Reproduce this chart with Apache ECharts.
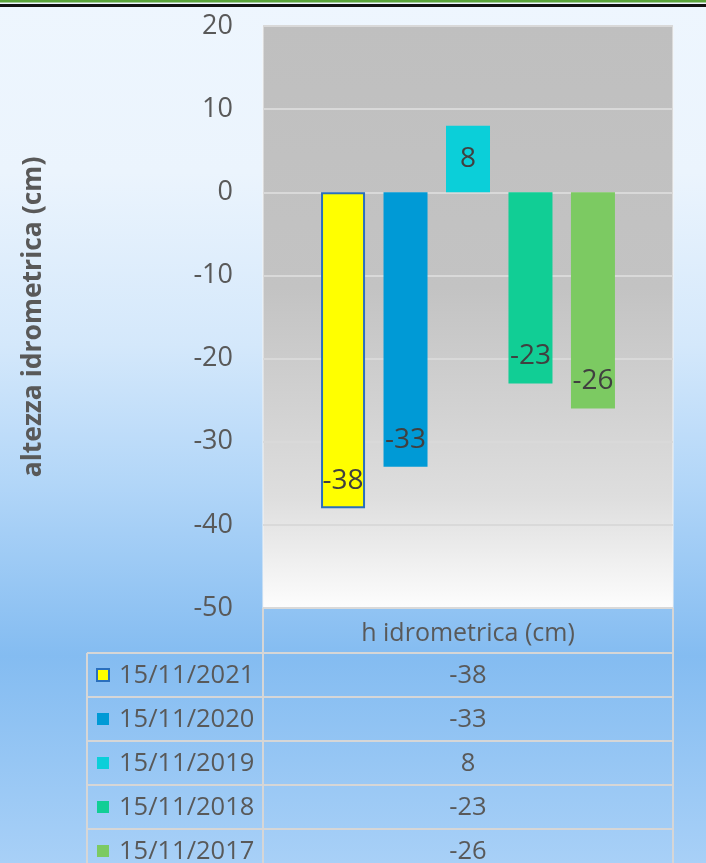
<!DOCTYPE html>
<html>
<head>
<meta charset="utf-8">
<script src="https://cdn.jsdelivr.net/npm/echarts@6/dist/echarts.min.js"></script>
<style>
  html, body { margin: 0; padding: 0; }
  #chart { width: 706px; height: 863px; }
</style>
</head>
<body>
<div id="chart"></div>
<script>
// ---- data ----
const categories = ['h idrometrica (cm)'];
const seriesNames = ['15/11/2021', '15/11/2020', '15/11/2019', '15/11/2018', '15/11/2017'];
const seriesValues = [-38, -33, 8, -23, -26];
const yMin = -50, yMax = 20, yStep = 10;
const axisTitle = 'altezza idrometrica (cm)';

// ---- styles ----
const barColors = ['#ffff00', '#009ad6', '#0bcfd9', '#11ce95', '#7cca62'];
const FONT = '"Open Sans", "Noto Sans", sans-serif';

const chart = echarts.init(document.getElementById('chart'), null, { renderer: 'canvas' });

const gridLeft = 263, gridRight = 673, gridTop = 26, gridBottom = 608;
const rowH = 44;
const tableLeft = 87;
const lineColor = '#d6d6d6';

const series = seriesNames.map((name, i) => {
  const v = seriesValues[i];
  return {
    name: name,
    type: 'bar',
    barWidth: 44,
    barGap: '42%',
    data: [v],
    itemStyle: i === 0
      ? { color: barColors[i], borderColor: '#2a6fbd', borderWidth: 2 }
      : { color: barColors[i] },
    label: {
      show: true,
      position: v < 0 ? 'insideBottom' : 'insideTop',
      distance: v < 0 ? 13 : 19,
      fontFamily: FONT,
      fontSize: 28,
      color: '#404040'
    }
  };
});

// table graphics
const graphics = [];
// top decorative lines
graphics.push({ type: 'rect', shape: { x: 0, y: 0, width: 706, height: 2.5 }, style: { fill: '#5aa43a' }, silent: true });
graphics.push({ type: 'rect', shape: { x: 0, y: 4, width: 706, height: 3 }, style: { fill: '#111111' }, silent: true });

const tableTop = gridBottom;
const firstRowTop = tableTop + rowH + 1;
// header cell borders
graphics.push({ type: 'line', shape: { x1: gridLeft, y1: tableTop, x2: gridLeft, y2: firstRowTop }, style: { stroke: lineColor, lineWidth: 2 } });
graphics.push({ type: 'line', shape: { x1: gridRight, y1: tableTop, x2: gridRight, y2: firstRowTop }, style: { stroke: lineColor, lineWidth: 2 } });
const tableBottom = 863 + 10;
// vertical lines for data rows
[tableLeft, gridLeft, gridRight].forEach(x => {
  graphics.push({ type: 'line', shape: { x1: x, y1: firstRowTop, x2: x, y2: tableBottom }, style: { stroke: lineColor, lineWidth: 2 } });
});
seriesNames.forEach((name, i) => {
  const top = firstRowTop + i * rowH;
  graphics.push({ type: 'line', shape: { x1: tableLeft, y1: top, x2: gridRight, y2: top }, style: { stroke: lineColor, lineWidth: 2 } });
  const cy = top + rowH / 2;
  graphics.push({
    type: 'rect',
    shape: { x: 97, y: cy - 6, width: 12, height: 12 },
    style: i === 0 ? { fill: barColors[i], stroke: '#2a6fbd', lineWidth: 2 } : { fill: barColors[i] }
  });
  graphics.push({
    type: 'text',
    style: { text: name, x: 119, y: cy + 1, font: '25.5px ' + FONT, fill: '#595959', verticalAlign: 'middle', align: 'left' }
  });
  graphics.push({
    type: 'text',
    style: { text: String(seriesValues[i]), x: (gridLeft + gridRight) / 2, y: cy + 1, font: '25.5px ' + FONT, fill: '#595959', verticalAlign: 'middle', align: 'center' }
  });
});

const option = {
  animation: false,
  backgroundColor: {
    type: 'linear', x: 0, y: 0, x2: 0, y2: 1,
    colorStops: [
      { offset: 0, color: '#eef6fe' },
      { offset: 0.2, color: '#ebf4fd' },
      { offset: 0.4, color: '#d4e8fb' },
      { offset: 0.56, color: '#b2d6f8' },
      { offset: 0.76, color: '#84bcf1' },
      { offset: 1, color: '#a8d0f7' }
    ]
  },
  grid: {
    left: gridLeft, top: gridTop, width: gridRight - gridLeft, height: gridBottom - gridTop,
    show: true,
    borderColor: '#f4f4f4', borderWidth: 1,
    backgroundColor: {
      type: 'linear', x: 0, y: 0, x2: 0, y2: 1,
      colorStops: [
        { offset: 0, color: '#bfbfbf' },
        { offset: 0.45, color: '#c3c3c3' },
        { offset: 0.67, color: '#d3d3d3' },
        { offset: 0.81, color: '#dedede' },
        { offset: 0.9, color: '#ececec' },
        { offset: 1, color: '#fdfdfd' }
      ]
    }
  },
  xAxis: {
    type: 'category',
    data: categories,
    axisLine: { show: false },
    axisTick: { show: false },
    axisLabel: { fontFamily: FONT, fontSize: 25, color: '#595959', margin: 13 },
    splitLine: { show: false }
  },
  yAxis: {
    type: 'value',
    min: yMin, max: yMax, interval: yStep,
    name: axisTitle,
    nameLocation: 'middle',
    nameGap: 216,
    nameTextStyle: { fontFamily: FONT, fontSize: 26.5, fontWeight: 'bold', color: '#595959' },
    axisLine: { show: false },
    axisTick: { show: false },
    axisLabel: { fontFamily: FONT, fontSize: 27, color: '#595959', margin: 30 },
    splitLine: { show: true, lineStyle: { color: '#d9d9d9', width: 2 } }
  },
  series: series,
  graphic: graphics
};

chart.setOption(option);
</script>
</body>
</html>
